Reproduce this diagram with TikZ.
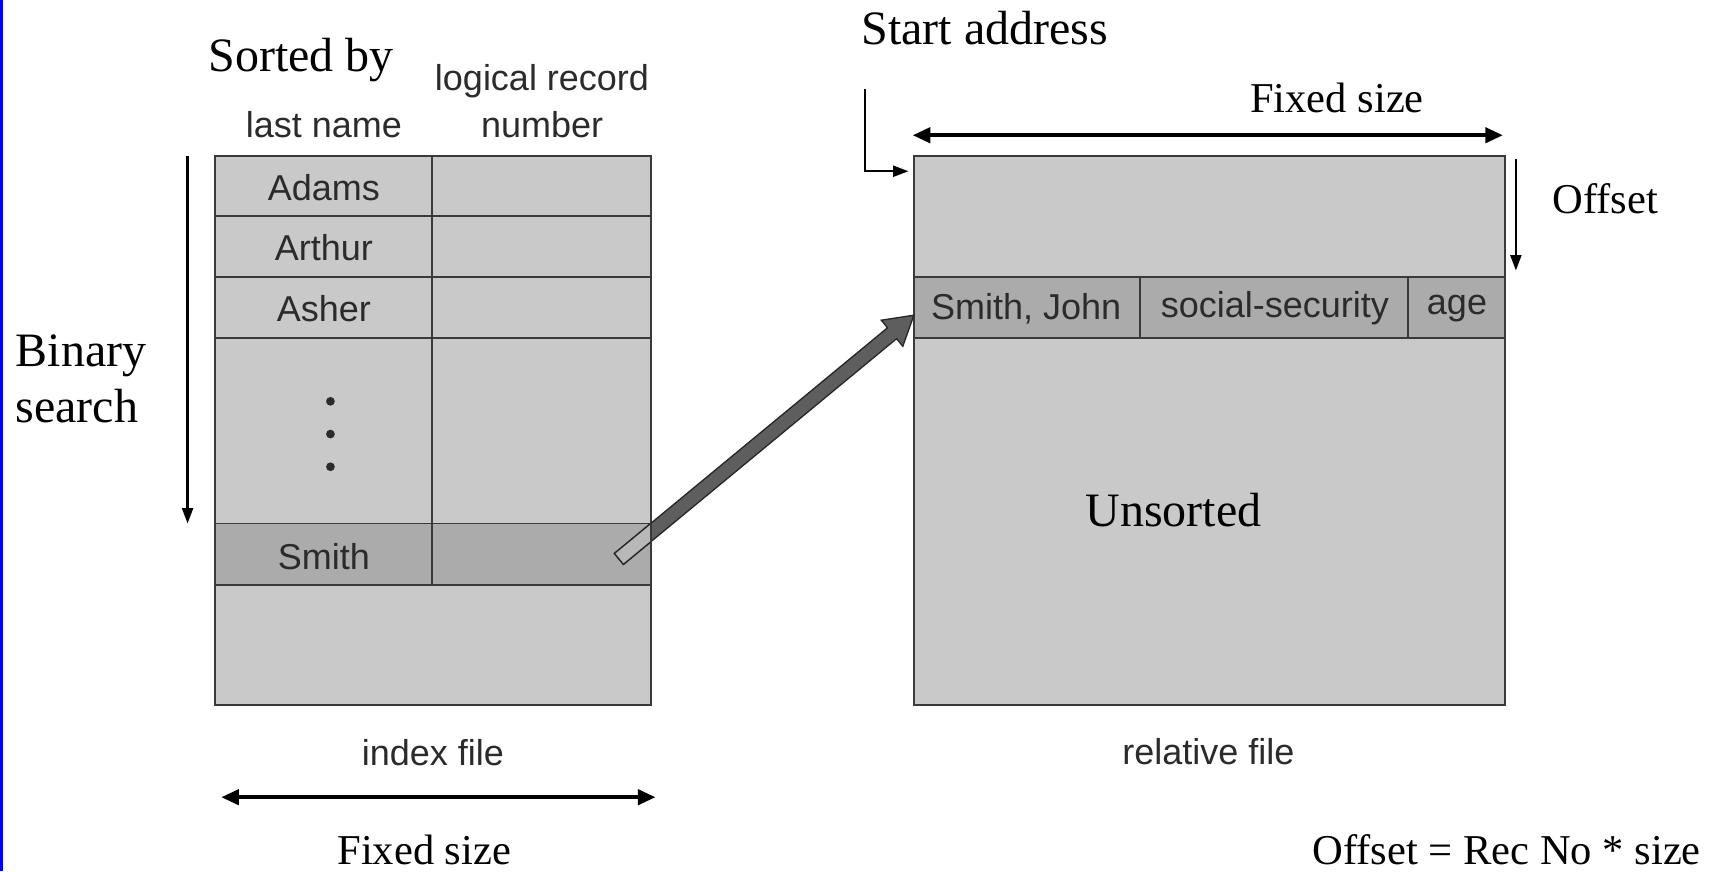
\documentclass[tikz,border=0pt]{standalone}
\usepackage{fontspec}
\setmainfont{Liberation Serif}
\newfontfamily\helv{Liberation Sans}
\usetikzlibrary{arrows.meta,calc}

\definecolor{cellgray}{HTML}{C9C9C9}
\definecolor{hitgray}{HTML}{ABABAB}
\definecolor{rulegray}{HTML}{3A3A3A}
\definecolor{inkgray}{HTML}{2B2B2B}
\definecolor{ptrgray}{HTML}{5E5E5E}
\definecolor{slideblue}{HTML}{0000FF}

\tikzset{
  cell/.style={draw=rulegray, line width=0.9pt, fill=cellgray},
  hitcell/.style={draw=rulegray, line width=0.9pt, fill=hitgray},
  scantext/.style={font=\helv\fontsize{16.5}{18}\selectfont, text=inkgray, inner sep=0pt},
  notetext/.style={font=\fontsize{19.5}{22}\selectfont, text=black, inner sep=0pt},
  bignote/.style={font=\fontsize{22}{25}\selectfont, text=black, inner sep=0pt},
  onearrow/.style={draw=black, line width=1pt, -{Triangle[length=7pt,width=5pt]}},
  spanarrow/.style={draw=black, line width=1.6pt, {Triangle[length=8pt,width=7pt]}-{Triangle[length=8pt,width=7pt]}},
  dotmark/.style={fill=inkgray, circle, inner sep=0pt, minimum size=4pt}
}

% outline of the fat pointer arrow, from (smithrec) to (recentry)
\newcommand\ptroutline{%
  ($(smithrec)!3.25pt!90:(recentry)$) --
  ($(headbase)!3.25pt!90:(recentry)$) --
  ($(headbase)!7.75pt!90:(recentry)$) --
  (recentry) --
  ($(headbase)!7.75pt!-90:(recentry)$) --
  ($(headbase)!3.25pt!-90:(recentry)$) --
  ($(smithrec)!3.25pt!-90:(recentry)$) -- cycle}

\begin{document}
\begin{tikzpicture}[x=0.5pt, y=-0.5pt]
  \useasboundingbox (0,0) rectangle (1568,799);
  % slide edge
  \fill[slideblue] (0,0) rectangle (3,799);

  % ---------- index file ----------
  \path[cell] (197,143) rectangle (597,646);
  \path[hitcell] (197,480) rectangle (597,536);
  \draw[rulegray, line width=0.9pt]
    (197,198) -- (597,198)
    (197,254) -- (597,254)
    (197,310) -- (597,310)
    (197,480) -- (597,480)
    (197,536) -- (597,536)
    (396,143) -- (396,536);
  \draw[rulegray, line width=0.9pt] (197,143) rectangle (597,646);

  \node[scantext] (adams)  at (297,172) {Adams};
  \node[scantext] (arthur) at (297,227) {Arthur};
  \node[scantext] (asher)  at (297,283) {Asher};
  \node[dotmark] (d1) at (303,368) {};
  \node[dotmark] (d2) at (303,398) {};
  \node[dotmark] (d3) at (303,428) {};
  \node[scantext] (smith) at (297,510) {Smith};
  \coordinate (smithrec) at (567.5,512.5);

  \node[scantext] (lastname) at (297,114) {last name};
  \node[scantext] (logrec) at (497,74) {logical record};
  \node[scantext] (recnum) at (497,114) {number};
  \node[scantext] (indexfile) at (397,690) {index file};

  \node[bignote, anchor=base] (sortedby) at (276,66) {Sorted by};
  \node[bignote, anchor=base west] (binary) at (14,336) {Binary};
  \node[bignote, anchor=base west] (search) at (14,387) {search};
  \coordinate (bstop) at (172,143);
  \coordinate (bsbot) at (172,480);
  \draw[onearrow] (bstop) -- (bsbot);

  \coordinate (ixl) at (203,731);
  \coordinate (ixr) at (601,731);
  \draw[spanarrow] (ixl) -- (ixr);
  \node[notetext] (fixedbottom) at (389,779) {Fixed size};

  % ---------- relative file ----------
  \path[cell] (838,143) rectangle (1380,646);
  \path[hitcell] (838,254) rectangle (1380,310);
  \draw[rulegray, line width=0.9pt]
    (838,254) -- (1380,254)
    (838,310) -- (1380,310)
    (1045,254) -- (1045,310)
    (1291,254) -- (1291,310);
  \draw[rulegray, line width=0.9pt] (838,143) rectangle (1380,646);

  \node[scantext] (sjohn) at (941,283) {Smith, John};
  \node[scantext] (ssn) at (1169,283) {social-security};
  \node[scantext] (age) at (1336,283) {age};
  \coordinate (recentry) at (838,289);
  \node[scantext] (relfile) at (1108,689) {relative file};
  \node[bignote, anchor=base] (unsorted) at (1076,483) {Unsorted};

  \node[bignote, anchor=base] (startaddr) at (903,41) {Start address};
  \coordinate (sa1) at (793,82);
  \coordinate (sa2) at (793,157);
  \coordinate (sa3) at (833,157);
  \draw[onearrow] (sa1) -- (sa2) -- (sa3);

  \node[notetext] (fixedtop) at (1226,90) {Fixed size};
  \coordinate (rxl) at (837,124);
  \coordinate (rxr) at (1378,124);
  \draw[spanarrow] (rxl) -- (rxr);

  \node[notetext] (offset) at (1472,182) {Offset};
  \coordinate (oftop) at (1390,146);
  \coordinate (ofbot) at (1390,248);
  \draw[onearrow] (oftop) -- (ofbot);

  \node[notetext, anchor=east] (formula) at (1560,779) {Offset = Rec No * size};

  % ---------- pointer from index entry to record ----------
  \coordinate (headbase) at ($(recentry)!13pt!(smithrec)$);
  \filldraw[draw=black!85, line width=0.6pt, fill=ptrgray] \ptroutline;
  % the part lying over the index row is paler
  \begin{scope}
    \clip (197,480) rectangle (597,536);
    \filldraw[draw=black!85, line width=0.6pt, fill=hitgray!85!white] \ptroutline;
  \end{scope}
  \draw[rulegray, line width=0.9pt] (597,480) -- (597,536);
\end{tikzpicture}
\end{document}
